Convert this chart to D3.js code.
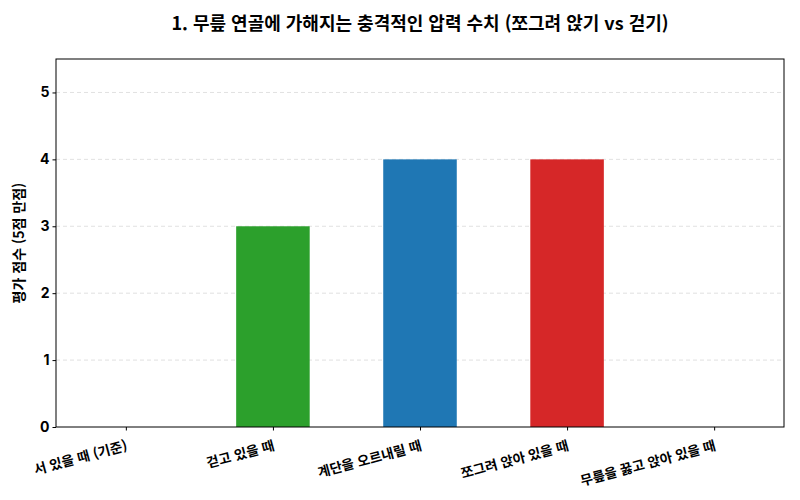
<!DOCTYPE html>
<html lang="ko">
<head>
<meta charset="UTF-8">
<script src="https://d3js.org/d3.v7.min.js"></script>
<style>
  body { margin: 0; background: #fff; }
  text { font-family: "Noto Sans CJK KR", "Noto Sans", sans-serif; }
</style>
</head>
<body>
<div id="chart"></div>
<script>
  // data
  var categories = ["서 있을 때 (기준)", "걷고 있을 때", "계단을 오르내릴 때", "쪼그려 앉아 있을 때", "무릎을 꿇고 앉아 있을 때"];
  var scores = [0, 3, 4, 4, 0];
  var barColors = ["#7f7f7f", "#2ca02c", "#1f77b4", "#d62728", "#9467bd"];
  var yTicks = [0, 1, 2, 3, 4, 5];
  var title = "1. 무릎 연골에 가해지는 충격적인 압력 수치 (쪼그려 앉기 vs 걷기)";
  var yLabel = "평가 점수 (5점 만점)";

  var W = 800, H = 500;
  var m = {top: 59, right: 16, bottom: 73, left: 56};
  var w = W - m.left - m.right, h = H - m.top - m.bottom;

  var svg = d3.select("#chart").append("svg").attr("width", W).attr("height", H);
  var g = svg.append("g").attr("transform", "translate(" + m.left + "," + m.top + ")");

  var x = d3.scaleLinear().domain([-0.475, 4.475]).range([0, w]);
  var y = d3.scaleLinear().domain([0, 5.5]).range([h, 0]);
  var bw = x(0.5) - x(0);

  // grid
  g.selectAll(".grid").data(yTicks.slice(1)).enter().append("line")
    .attr("x1", 0).attr("x2", w)
    .attr("y1", d => y(d)).attr("y2", d => y(d))
    .attr("stroke", "#d9d9d9").attr("stroke-dasharray", "4,3").attr("stroke-width", 0.8);

  g.selectAll(".bar").data(scores).enter().append("rect")
    .attr("x", (d, i) => x(i) - bw / 2)
    .attr("y", d => y(d))
    .attr("width", bw)
    .attr("height", d => h - y(d))
    .attr("fill", (d, i) => barColors[i]);

  g.append("rect").attr("width", w).attr("height", h)
    .attr("fill", "none").attr("stroke", "#000").attr("stroke-width", 1);

  var ya = g.append("g").call(d3.axisLeft(y).tickValues(yTicks).tickFormat(d3.format("d"))
    .tickSize(3.5).tickSizeOuter(0));
  ya.select(".domain").remove();
  ya.selectAll("text").attr("font-size", 14).attr("font-weight", "bold").attr("fill", "#000")
    .style("font-family", "Inter, 'Noto Sans', sans-serif");

  var xa = g.append("g").attr("transform", "translate(0," + h + ")")
    .call(d3.axisBottom(x).tickValues(d3.range(categories.length)).tickSize(3.5).tickSizeOuter(0)
      .tickFormat(i => categories[i]));
  xa.select(".domain").remove();
  xa.selectAll("text")
    .attr("font-size", 13.5).attr("font-weight", "bold").attr("fill", "#000")
    .attr("text-anchor", "end")
    .attr("dy", "0.35em")
    .attr("transform", "translate(-1,12) rotate(-15)");

  svg.append("text").attr("x", W / 2 + 20).attr("y", 30)
    .attr("text-anchor", "middle").attr("font-size", 18).attr("font-weight", "bold")
    .text(title);

  svg.append("text")
    .attr("transform", "translate(24," + (m.top + h / 2) + ") rotate(-90)")
    .attr("text-anchor", "middle").attr("font-size", 14).attr("font-weight", "bold")
    .text(yLabel);
</script>
</body>
</html>
